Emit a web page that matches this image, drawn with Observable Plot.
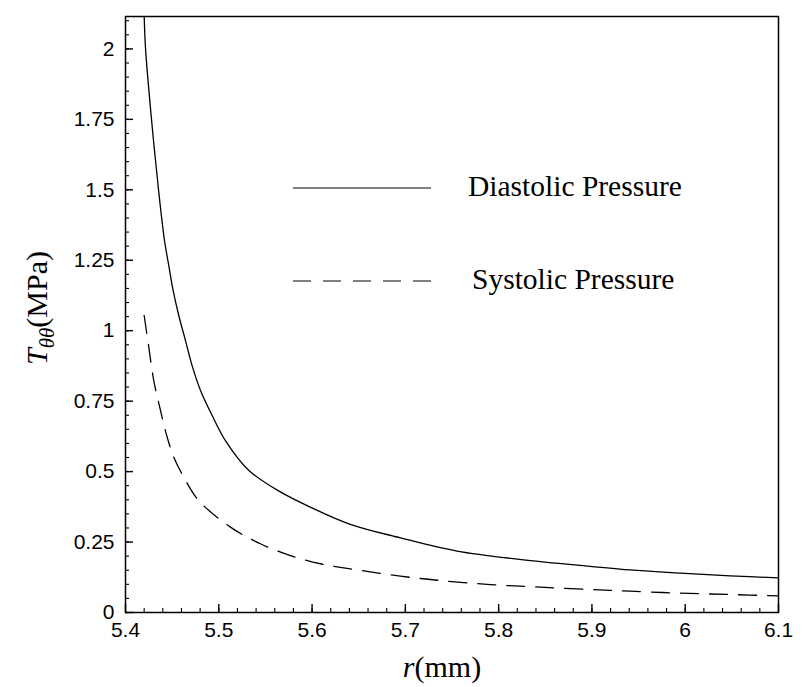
<!DOCTYPE html>
<html><head><meta charset="utf-8">
<script src="https://cdn.jsdelivr.net/npm/d3@7"></script>
<script src="https://cdn.jsdelivr.net/npm/@observablehq/plot@0.6"></script>
<style>body{margin:0;background:#fff}</style>
</head><body><div id="chart"></div>
<script>
// Radius (mm) and hoop stress T_θθ (MPa)
const rDiastolic = [5.42, 5.4215, 5.4279, 5.4354, 5.4418, 5.4464, 5.4511, 5.4571, 5.4643, 5.4714, 5.4804, 5.4929, 5.5071, 5.532, 5.566, 5.5982, 5.641, 5.6947, 5.7554, 5.8268, 5.898, 5.941, 5.9947, 6.048, 6.1];
const tDiastolic = [2.12, 2.0, 1.749, 1.5, 1.32, 1.231, 1.142, 1.054, 0.965, 0.876, 0.788, 0.699, 0.610, 0.505, 0.428, 0.374, 0.313, 0.265, 0.218, 0.187, 0.164, 0.151, 0.140, 0.130, 0.123];
const rSystolic = [5.42, 5.425, 5.4303, 5.4375, 5.4447, 5.4518, 5.4625, 5.4786, 5.5125, 5.5446, 5.5768, 5.609, 5.641, 5.6947, 5.7375, 5.791, 5.8446, 5.898, 5.941, 5.9947, 6.048, 6.1];
const tSystolic = [1.054, 0.941, 0.823, 0.717, 0.622, 0.551, 0.48, 0.397, 0.303, 0.244, 0.202, 0.173, 0.155, 0.129, 0.1135, 0.099, 0.090, 0.0816, 0.0757, 0.0686, 0.0639, 0.059];
const xTicks = [5.4, 5.5, 5.6, 5.7, 5.8, 5.9, 6.0, 6.1];
const yTicks = [0, 0.25, 0.5, 0.75, 1, 1.25, 1.5, 1.75, 2];
const seriesNames = ["Diastolic Pressure", "Systolic Pressure"];

const xMinor = d3.range(0, 36).map(i => 5.4 + i * 0.02);
const yMinor = d3.range(0, 43).map(i => i * 0.05);
const fmt = d => String(+(+d).toFixed(2));

const diastolic = rDiastolic.map((r, i) => ({r, t: tDiastolic[i]}));
const systolic = rSystolic.map((r, i) => ({r, t: tSystolic[i]}));

const W = 805, H = 687, ML = 125, MR = 27, MT = 16, MB = 75;
const frameW = W - ML - MR, frameH = H - MT - MB;

const plot = Plot.plot({
  width: W, height: H,
  marginLeft: ML, marginRight: MR, marginTop: MT, marginBottom: MB,
  style: {fontFamily: "'Liberation Sans', Arial, sans-serif", fontSize: "21px", color: "black", background: "white"},
  x: {domain: [5.4, 6.1], label: null},
  y: {domain: [0, 2.115], label: null},
  marks: [
    Plot.axisX({ticks: xTicks, tickSize: 0, tickPadding: 10, tickFormat: fmt, label: null, fontSize: 21}),
    Plot.axisY({ticks: yTicks, tickSize: 0, tickPadding: 11, tickFormat: fmt, label: null, fontSize: 21}),
    // inward tick marks (major and minor)
    Plot.ruleX(xTicks, {x: d => d, insetTop: frameH - 8, stroke: "black", strokeWidth: 1.4}),
    Plot.ruleX(xMinor, {x: d => d, insetTop: frameH - 4, stroke: "black", strokeWidth: 1.1}),
    Plot.ruleY(yTicks, {y: d => d, insetRight: frameW - 8, stroke: "black", strokeWidth: 1.4}),
    Plot.ruleY(yMinor, {y: d => d, insetRight: frameW - 4, stroke: "black", strokeWidth: 1.1}),
    Plot.line(diastolic, {x: "r", y: "t", stroke: "black", strokeWidth: 1.3, clip: true, curve: "catmull-rom"}),
    Plot.line(systolic, {x: "r", y: "t", stroke: "black", strokeWidth: 1.3, strokeDasharray: "18,11", clip: true, curve: "catmull-rom"}),
    Plot.frame({stroke: "black", strokeWidth: 1.5})
  ]
});
document.getElementById("chart").appendChild(plot);

const svg = d3.select(plot);
const serif = "'Liberation Serif', 'Times New Roman', serif";
const g = svg.append("g").attr("font-family", serif).attr("fill", "black");

// x title
const xt = g.append("text").attr("x", 442).attr("y", 677).attr("text-anchor", "middle").attr("font-size", 30);
xt.append("tspan").attr("font-style", "italic").text("r");
xt.append("tspan").text("(mm)");

// y title
const yt = g.append("text").attr("transform", "translate(47,308) rotate(-90)").attr("text-anchor", "middle").attr("font-size", 30);
yt.append("tspan").attr("font-style", "italic").text("T");
yt.append("tspan").attr("font-style", "italic").attr("font-size", 21).attr("dy", 7).text("θθ");
yt.append("tspan").attr("dy", -7).text("(MPa)");

// legend
const leg = [
  {name: seriesNames[0], y: 188, dash: null, tx: 468},
  {name: seriesNames[1], y: 281, dash: "18,12", tx: 472}
];
leg.forEach(d => {
  g.append("line").attr("x1", 293).attr("x2", 431).attr("y1", d.y).attr("y2", d.y)
    .attr("stroke", "black").attr("stroke-width", 1.2).attr("stroke-dasharray", d.dash);
  g.append("text").attr("x", d.tx).attr("y", d.y + 8).attr("text-anchor", "start")
    .attr("font-size", 29.5).text(d.name);
});
</script>
</body></html>
